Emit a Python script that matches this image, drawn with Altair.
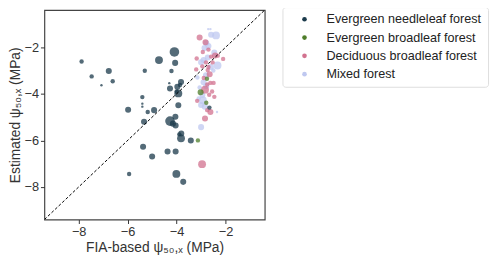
import altair as alt
import pandas as pd

categories = ["Evergreen needleleaf forest", "Evergreen broadleaf forest",
              "Deciduous broadleaf forest", "Mixed forest"]
colors = ["#1b3a4b", "#4e7d2a", "#d2728f", "#bfc8f0"]

# (FIA-based psi50, estimated psi50, relative weight)
enf = [(-7.88,-2.61,2),(-7.47,-3.25,2),(-7.07,-3.63,1),(-6.77,-3.02,3),(-6.61,-3.46,2),
       (-5.98,-4.68,3),(-5.94,-7.44,2),(-5.40,-4.14,2),(-5.40,-4.42,1),(-5.40,-4.55,1),
       (-5.30,-3.01,2),(-5.33,-5.20,3),(-5.37,-6.27,3),(-5.18,-4.78,2),(-4.92,-4.70,3),
       (-5.00,-6.69,3),(-4.72,-2.55,4),(-4.37,-6.48,3),(-4.30,-3.54,1),(-4.27,-3.77,3),
       (-4.27,-5.17,5),(-4.21,-3.02,2),(-4.09,-2.20,5),(-4.06,-2.67,3),(-4.05,-4.98,3),
       (-4.04,-5.36,3),(-4.15,-5.28,3),(-4.04,-6.48,3),(-4.01,-7.44,4),(-3.97,-3.70,3),
       (-3.93,-3.98,4),(-4.00,-3.90,2),(-3.93,-4.49,3),(-3.82,-3.49,3),(-3.86,-3.62,2),
       (-3.89,-5.74,2),(-3.81,-5.70,3),(-3.82,-5.91,4),(-3.73,-7.78,3),(-3.42,-6.00,3),
       (-2.66,-4.59,2)]
ebf = [(-2.76,-3.35,2),(-3.02,-3.93,3),(-2.79,-4.38,2),(-3.13,-6.00,2)]
dbf = [(-3.06,-1.58,3),(-2.82,-1.78,3),(-2.93,-2.20,2),(-3.18,-2.48,2),(-2.59,-2.40,2),
       (-2.43,-2.35,3),(-2.32,-2.36,2),(-2.10,-2.50,2),(-2.53,-2.65,2),(-2.95,-2.82,2),
       (-3.20,-2.95,2),(-2.73,-2.98,2),(-2.65,-3.16,3),(-2.89,-3.32,2),(-2.62,-3.53,2),
       (-2.49,-3.53,2),(-2.84,-3.82,4),(-2.67,-4.04,2),(-2.46,-4.13,2),(-3.16,-4.30,2),
       (-2.62,-4.78,3),(-2.75,-4.70,2),(-2.84,-5.06,3),(-2.96,-7.02,4),(-2.70,-2.10,2),
       (-2.80,-2.65,2),(-2.75,-3.60,2),(-2.55,-3.90,2),(-2.70,-2.85,2)]
mf = [(-2.71,-1.22,1),(-2.62,-1.22,1),(-2.39,-1.49,4),(-2.59,-1.46,3),(-2.79,-1.82,3),
      (-2.86,-2.03,3),(-2.70,-1.95,3),(-2.46,-2.23,3),(-2.73,-2.44,3),(-2.33,-2.78,4),
      (-3.00,-2.64,3),(-2.90,-2.55,3),(-2.60,-2.85,3),(-2.79,-3.66,3),(-2.90,-3.50,3),
      (-3.06,-3.73,2),(-2.93,-4.27,4),(-3.00,-4.48,3),(-2.85,-4.55,3),(-3.00,-5.43,3),
      (-2.35,-4.78,1),(-3.15,-3.30,2),(-2.80,-3.20,3),(-2.50,-3.00,2),(-2.95,-4.05,3),
      (-3.10,-4.20,2)]

draw_order = {"Mixed forest": 0, "Deciduous broadleaf forest": 1,
              "Evergreen broadleaf forest": 2, "Evergreen needleleaf forest": 3}
rows = []
for cat, pts in zip(categories, [enf, ebf, dbf, mf]):
    for x, y, w in pts:
        rows.append({"fia": x, "est": y, "w": w, "type": cat, "ord": draw_order[cat]})
df = pd.DataFrame(rows)

lim = [-9.4, -0.4]
line_df = pd.DataFrame({"a": lim, "b": lim})

xscale = alt.Scale(domain=lim, nice=False, zero=False)
yscale = alt.Scale(domain=lim, nice=False, zero=False)
font = "Liberation Sans"

def axis(title, tp):
    return alt.Axis(title=title, values=[-8, -6, -4, -2], grid=False, domain=False,
                    tickSize=4, tickColor="#333", labelFontSize=13, titleFontSize=14,
                    labelColor="#333", titleColor="#333", titleFontWeight="normal",
                    labelFont=font, titleFont=font, titlePadding=tp, labelPadding=2)

points = alt.Chart(df).mark_circle(opacity=0.75).encode(
    x=alt.X("fia:Q", scale=xscale, axis=axis("FIA-based ψ₅₀,ₓ (MPa)", 2)),
    y=alt.Y("est:Q", scale=yscale, axis=axis("Estimated ψ₅₀,ₓ (MPa)", 1)),
    color=alt.Color("type:N", scale=alt.Scale(domain=categories, range=colors),
                    legend=alt.Legend(title=None, orient="none", legendX=242, legendY=-3,
                                      symbolType="circle", symbolSize=22, symbolOpacity=1,
                                      labelFontSize=12.8, labelFont=font, labelColor="#222",
                                      labelLimit=300,
                                      strokeColor="#ddd", padding=6, cornerRadius=3,
                                      rowPadding=4.6, symbolOffset=10, labelOffset=16,
                                      fillColor="white")),
    size=alt.Size("w:Q", scale=alt.Scale(domain=[1, 2, 3, 4, 5],
                                         range=[6, 20, 38, 64, 95]), legend=None),
    order=alt.Order("ord:Q"),
)

diag = alt.Chart(line_df).mark_line(color="black", strokeDash=[3, 2], strokeWidth=1,
                                    clip=True).encode(
    x=alt.X("a:Q", scale=xscale), y=alt.Y("b:Q", scale=yscale))

chart = alt.layer(points, diag).properties(
    width=224, height=213,
    autosize=alt.AutoSizeParams(type="none"),
    padding={"left": 37, "top": 0, "right": 231, "bottom": 37},
).configure_view(stroke="#444", strokeWidth=1.2)

chart.save("out.html", embed_options={"renderer": "svg", "actions": False})
